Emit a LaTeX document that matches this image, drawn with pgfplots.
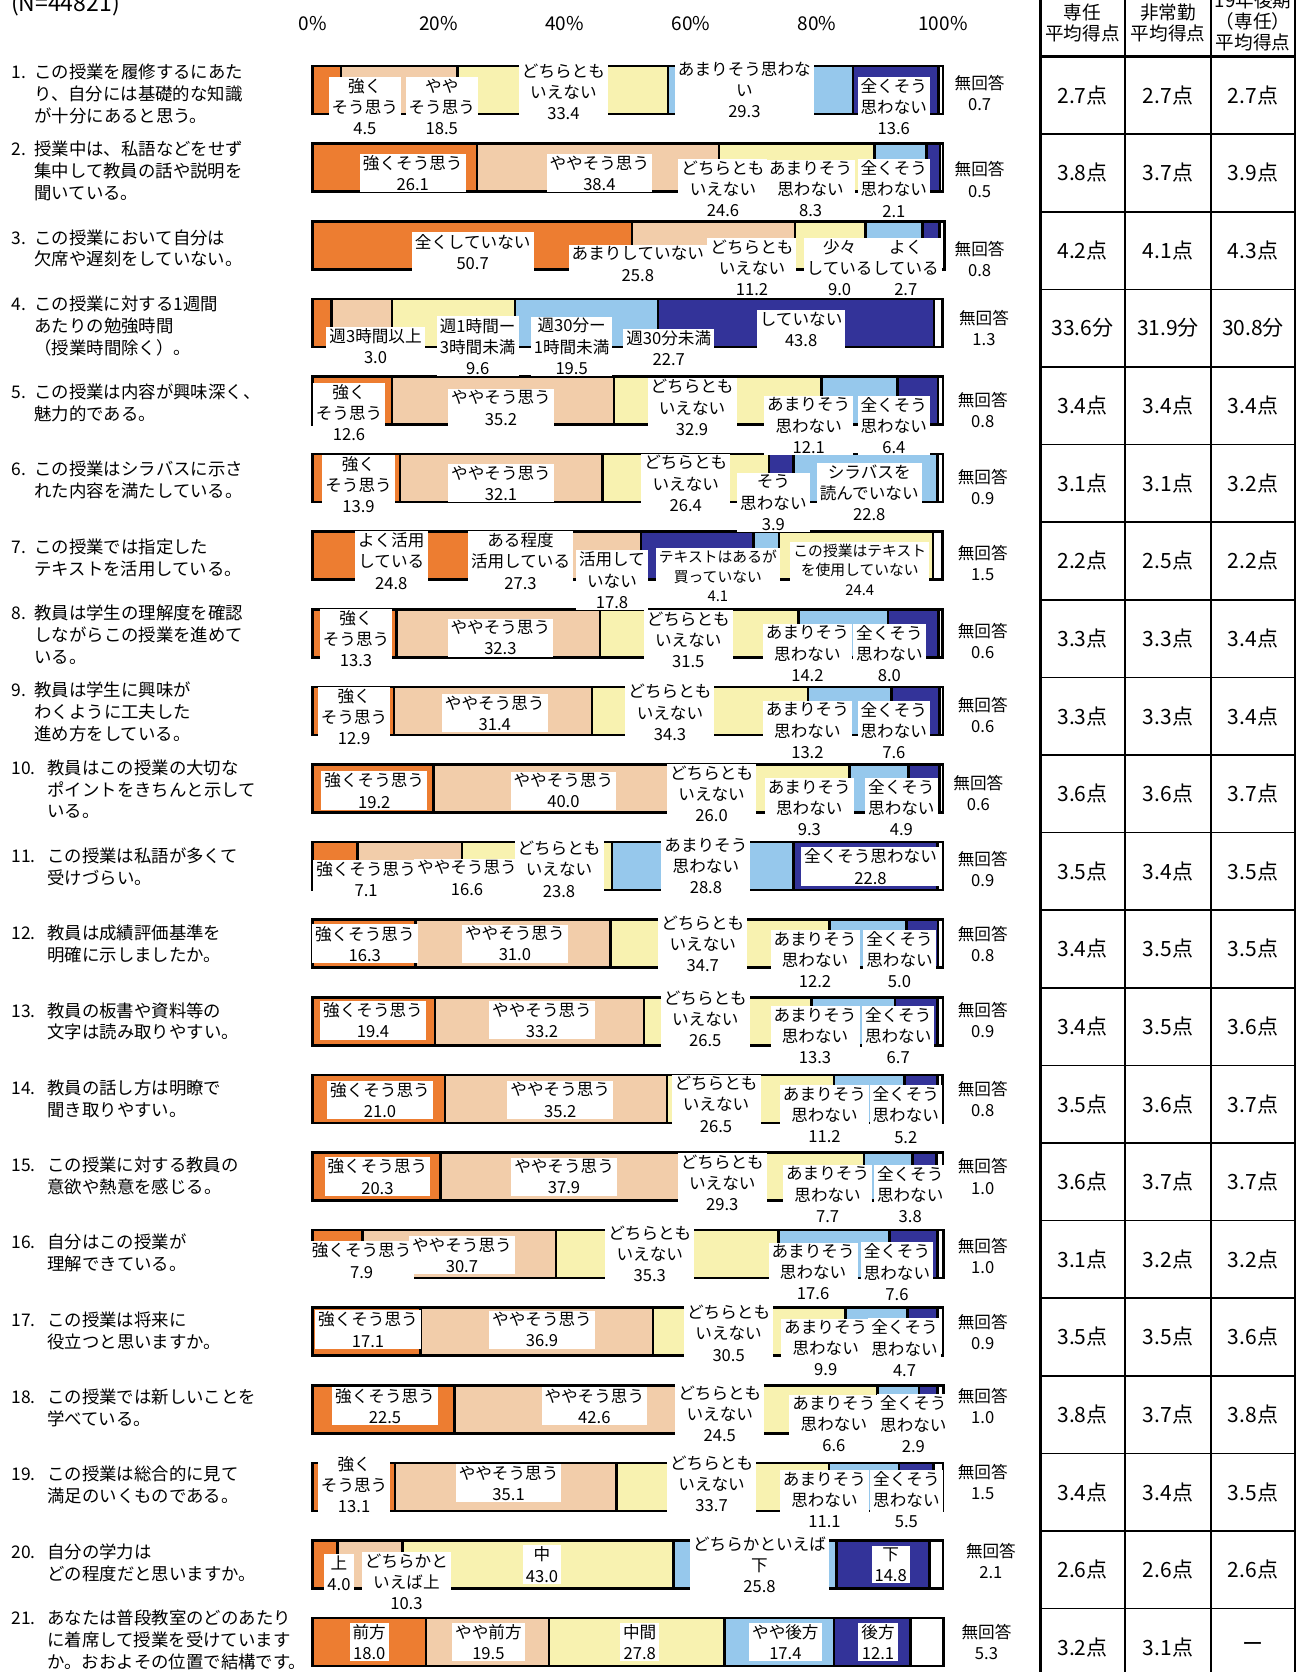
\documentclass[border=0pt]{standalone}
\usepackage{fontspec}
\setmainfont{Noto Sans CJK JP}
\usepackage{pgfplots}
\pgfplotsset{compat=1.18}
\usepackage{pgfplotstable}

\definecolor{cOr}{RGB}{237,125,49}
\definecolor{cPe}{RGB}{242,205,170}
\definecolor{cYe}{RGB}{248,242,176}
\definecolor{cLb}{RGB}{150,200,236}
\definecolor{cNv}{RGB}{51,51,153}

\newcommand{\lfont}{\fontsize{8.3}{10.6}\selectfont}
\newcommand{\sfont}{\fontsize{7.4}{9.8}\selectfont}
\newcommand{\qfont}{\fontsize{8.7}{10.95}\selectfont}
\newcommand{\tfont}{\fontsize{10.5}{12}\selectfont}
\newcommand{\hfont}{\fontsize{9.3}{10.6}\selectfont}
\newcommand{\pfont}{\fontsize{9.5}{11}\selectfont}

% one row per question; nvA/lbA only used by Q7, nvB only by Q6
\pgfplotstableread{
q  or   pe   nvA  lbA  ye   nvB  lb   nv   wh
1  4.5  18.5 0    0    33.4 0    29.3 13.6 0.7
2  26.1 38.4 0    0    24.6 0    8.3  2.1  0.5
3  50.7 25.8 0    0    11.2 0    9.0  2.7  0.8
4  3.0  9.6  0    0    19.5 0    22.7 43.8 1.3
5  12.6 35.2 0    0    32.9 0    12.1 6.4  0.8
6  13.9 32.1 0    0    26.4 3.9  22.8 0    0.9
7  24.8 27.3 17.8 4.1  24.4 0    0    0    1.5
8  13.3 32.3 0    0    31.5 0    14.2 8.0  0.6
9  12.9 31.4 0    0    34.3 0    13.2 7.6  0.6
10 19.2 40.0 0    0    26.0 0    9.3  4.9  0.6
11 7.1  16.6 0    0    23.8 0    28.8 22.8 0.9
12 16.3 31.0 0    0    34.7 0    12.2 5.0  0.8
13 19.4 33.2 0    0    26.5 0    13.3 6.7  0.9
14 21.0 35.2 0    0    26.5 0    11.2 5.2  0.8
15 20.3 37.9 0    0    29.3 0    7.7  3.8  1.0
16 7.9  30.7 0    0    35.3 0    17.6 7.6  1.0
17 17.1 36.9 0    0    30.5 0    9.9  4.7  0.9
18 22.5 42.6 0    0    24.5 0    6.6  2.9  1.0
19 13.1 35.1 0    0    33.7 0    11.1 5.5  1.5
20 4.0  10.3 0    0    43.0 0    25.8 14.8 2.1
21 18.0 19.5 0    0    27.8 0    17.4 12.1 5.3
}\data

\pgfplotsset{frame/.style={
  at={(156.25pt,-25.65pt)}, anchor=north west,
  scale only axis, width=315.25pt, height=814.8pt,
  xmin=0, xmax=100, ymin=0.5, ymax=21.5, y dir=reverse,
  clip=false}}

% label: x (percent), row, shift down (px), text
\newcommand{\lab}[4]{\node[lbl,yshift={-(#3)*0.533pt}] at (axis cs:#1,#2) {#4};}
\newcommand{\labs}[4]{\node[lbl,font=\sfont,yshift={-(#3)*0.533pt}] at (axis cs:#1,#2) {#4};}
\newcommand{\na}[4]{\node[lbl,fill=none,yshift={-(#3)*0.533pt}] at (axis cs:#2,#1) {無回答\\#4};}
\newcommand{\qn}[3]{\node[anchor=west,inner sep=0pt,font=\qfont] at (5.5pt,{-48pt-(#1-1)*38.65pt}) {\begin{tabular}{@{}p{#2}@{}l@{}}#3\end{tabular}};}

\begin{document}
\begin{tikzpicture}[lbl/.style={fill=white, inner xsep=1.5pt, inner ysep=0.8pt, align=center, font=\lfont}]
\useasboundingbox (0,0) rectangle (649pt,-836pt);
\clip (0,0) rectangle (649pt,-836pt);

% bars
\begin{axis}[
  frame,
  xbar stacked, bar width=24pt,
  ytick=\empty,
  xtick={0,20,40,60,80,100},
  xticklabels={0\%,20\%,40\%,60\%,80\%,100\%},
  xticklabel pos=upper,
  xticklabel style={font=\pfont, yshift=7pt},
  axis line style={draw=none},
  major tick length=0pt,
  every axis plot/.append style={draw=black, line width=1.3pt},
]
\addplot[fill=cOr] table[x=or,y=q]{\data};
\addplot[fill=cPe] table[x=pe,y=q]{\data};
\addplot[fill=cNv] table[x=nvA,y=q]{\data};
\addplot[fill=cLb] table[x=lbA,y=q]{\data};
\addplot[fill=cYe] table[x=ye,y=q]{\data};
\addplot[fill=cNv] table[x=nvB,y=q]{\data};
\addplot[fill=cLb] table[x=lb,y=q]{\data};
\addplot[fill=cNv] table[x=nv,y=q]{\data};
\addplot[fill=white] table[x=wh,y=q]{\data};
\end{axis}

% data labels, in a second axis with the same frame so they lie on top of the bars
\begin{axis}[frame, hide axis]
\lab{8.3}{1}{15.5}{強く\\そう思う\\4.5}
\lab{20.5}{1}{15.5}{やや\\そう思う\\18.5}
\lab{39.8}{1}{1.5}{どちらとも\\いえない\\33.4}
\lab{68.5}{1}{0}{あまりそう思わな\\い\\29.3}
\lab{92.2}{1}{15.5}{全くそう\\思わない\\13.6}
\na{1}{105.8}{3}{0.7}

\lab{15.9}{2}{5}{強くそう思う\\26.1}
\lab{45.5}{2}{5}{ややそう思う\\38.4}
\lab{65.1}{2}{20}{どちらとも\\いえない\\24.6}
\lab{79.0}{2}{20}{あまりそう\\思わない\\8.3}
\lab{92.2}{2}{20}{全くそう\\思わない\\2.1}
\na{2}{105.8}{11}{0.5}

\lab{25.4}{3}{6}{全くしていない\\50.7}
\lab{51.6}{3}{17.5}{あまりしていない\\25.8}
\lab{69.7}{3}{21}{どちらとも\\いえない\\11.2}
\lab{83.6}{3}{21}{少々\\している\\9.0}
\lab{94.1}{3}{21}{よく\\している\\2.7}
\na{3}{105.8}{12.5}{0.8}

\lab{10.0}{4}{22}{週3時間以上\\3.0}
\lab{26.2}{4}{22}{週1時間ー\\3時間未満\\9.6}
\lab{41.1}{4}{22}{週30分ー\\1時間未満\\19.5}
\lab{56.5}{4}{24}{週30分未満\\22.7}
\lab{77.5}{4}{6}{していない\\43.8}
\na{4}{106.5}{5}{1.3}

\lab{5.8}{5}{11.5}{強く\\そう思う\\12.6}
\lab{29.9}{5}{7}{ややそう思う\\35.2}
\lab{60.2}{5}{6.5}{どちらとも\\いえない\\32.9}
\lab{78.7}{5}{23.5}{あまりそう\\思わない\\12.1}
\lab{92.2}{5}{23.5}{全くそう\\思わない\\6.4}
\na{5}{106.3}{9}{0.8}

\lab{7.3}{6}{6}{強く\\そう思う\\13.9}
\lab{29.9}{6}{5}{ややそう思う\\32.1}
\lab{59.2}{6}{5}{どちらとも\\いえない\\26.4}
\lab{73.1}{6}{23}{そう\\思わない\\3.9}
\lab{88.3}{6}{14}{シラバスを\\読んでいない\\22.8}
\na{6}{106.3}{8}{0.9}

\lab{12.5}{7}{5}{よく活用\\している\\24.8}
\lab{33.0}{7}{5}{ある程度\\活用している\\27.3}
\lab{47.5}{7}{23}{活用して\\いない\\17.8}
\labs{64.3}{7}{19}{テキストはあるが\\買っていない\\4.1}
\labs{86.8}{7}{13}{この授業はテキスト\\を使用していない\\24.4}
\na{7}{106.3}{7}{1.5}

\lab{6.9}{8}{5}{強く\\そう思う\\13.3}
\lab{29.8}{8}{4}{ややそう思う\\32.3}
\lab{59.6}{8}{6}{どちらとも\\いえない\\31.5}
\lab{78.5}{8}{19}{あまりそう\\思わない\\14.2}
\lab{91.5}{8}{19}{全くそう\\思わない\\8.0}
\na{8}{106.3}{7}{0.6}

\lab{6.6}{9}{5.5}{強く\\そう思う\\12.9}
\lab{28.9}{9}{2}{ややそう思う\\31.4}
\lab{56.7}{9}{1.5}{どちらとも\\いえない\\34.3}
\lab{78.5}{9}{18.5}{あまりそう\\思わない\\13.2}
\lab{92.2}{9}{18.5}{全くそう\\思わない\\7.6}
\na{9}{106.3}{4}{0.6}

\lab{9.8}{10}{2}{強くそう思う\\19.2}
\lab{39.8}{10}{2}{ややそう思う\\40.0}
\lab{63.3}{10}{5}{どちらとも\\いえない\\26.0}
\lab{78.8}{10}{18}{あまりそう\\思わない\\9.3}
\lab{93.4}{10}{18}{全くそう\\思わない\\4.9}
\na{10}{105.6}{4}{0.6}

\lab{8.5}{11}{12}{強くそう思う\\7.1}
\lab{24.5}{11}{11}{ややそう思う\\16.6}
\lab{39.1}{11}{3}{どちらとも\\いえない\\23.8}
\lab{62.4}{11}{0}{あまりそう\\思わない\\28.8}
\lab{88.5}{11}{0.5}{全くそう思わない\\22.8}
\na{11}{106.3}{2.5}{0.9}

\lab{8.3}{12}{0}{強くそう思う\\16.3}
\lab{32.1}{12}{0}{ややそう思う\\31.0}
\lab{61.9}{12}{0}{どちらとも\\いえない\\34.7}
\lab{79.7}{12}{15}{あまりそう\\思わない\\12.2}
\lab{93.1}{12}{15}{全くそう\\思わない\\5.0}
\na{12}{106.3}{0}{0.8}

\lab{9.6}{13}{-1}{強くそう思う\\19.4}
\lab{36.4}{13}{-1}{ややそう思う\\33.2}
\lab{62.3}{13}{-2.5}{どちらとも\\いえない\\26.5}
\lab{79.7}{13}{13.5}{あまりそう\\思わない\\13.3}
\lab{92.9}{13}{13.5}{全くそう\\思わない\\6.7}
\na{13}{106.3}{-1}{0.9}

\lab{10.7}{14}{1}{強くそう思う\\21.0}
\lab{39.3}{14}{1}{ややそう思う\\35.2}
\lab{64.0}{14}{5}{どちらとも\\いえない\\26.5}
\lab{81.2}{14}{15}{あまりそう\\思わない\\11.2}
\lab{94.1}{14}{15}{全くそう\\思わない\\5.2}
\na{14}{106.3}{0}{0.8}

\lab{10.3}{15}{0}{強くそう思う\\20.3}
\lab{39.9}{15}{0}{ややそう思う\\37.9}
\lab{65.0}{15}{6}{どちらとも\\いえない\\29.3}
\lab{81.7}{15}{17}{あまりそう\\思わない\\7.7}
\lab{94.8}{15}{17}{全くそう\\思わない\\3.8}
\na{15}{106.3}{0}{1.0}

\lab{7.8}{16}{6}{強くそう思う\\7.9}
\lab{23.7}{16}{1}{ややそう思う\\30.7}
\lab{53.5}{16}{0}{どちらとも\\いえない\\35.3}
\lab{79.4}{16}{17}{あまりそう\\思わない\\17.6}
\lab{92.7}{16}{17}{全くそう\\思わない\\7.6}
\na{16}{106.3}{2}{1.0}

\lab{8.8}{17}{-2}{強くそう思う\\17.1}
\lab{36.4}{17}{-2}{ややそう思う\\36.9}
\lab{66.0}{17}{1.5}{どちらとも\\いえない\\30.5}
\lab{81.4}{17}{15.5}{あまりそう\\思わない\\9.9}
\lab{93.9}{17}{15.5}{全くそう\\思わない\\4.7}
\na{17}{106.3}{0}{0.9}

\lab{11.5}{18}{-3}{強くそう思う\\22.5}
\lab{44.7}{18}{-3}{ややそう思う\\42.6}
\lab{64.6}{18}{4}{どちらとも\\いえない\\24.5}
\lab{82.7}{18}{14}{あまりそう\\思わない\\6.6}
\lab{95.3}{18}{14}{全くそう\\思わない\\2.9}
\na{18}{106.3}{-3}{1.0}

\lab{6.6}{19}{-2}{強く\\そう思う\\13.1}
\lab{31.1}{19}{-3.5}{ややそう思う\\35.1}
\lab{63.3}{19}{-3}{どちらとも\\いえない\\33.7}
\lab{81.2}{19}{12}{あまりそう\\思わない\\11.1}
\lab{94.2}{19}{12}{全くそう\\思わない\\5.5}
\na{19}{106.3}{-4.5}{1.5}

\lab{4.2}{20}{8}{上\\4.0}
\lab{14.9}{20}{16.5}{どちらかと\\いえば上\\10.3}
\lab{36.4}{20}{0}{中\\43.0}
\lab{70.9}{20}{0}{どちらかといえば\\下\\25.8}
\lab{91.7}{20}{0}{下\\14.8}
\na{20}{107.6}{-3}{2.1}

\lab{9.0}{21}{0}{前方\\18.0}
\lab{27.9}{21}{0}{やや前方\\19.5}
\lab{51.9}{21}{0}{中間\\27.8}
\lab{75.0}{21}{0}{やや後方\\17.4}
\lab{89.7}{21}{0}{後方\\12.1}
\na{21}{106.9}{0}{5.3}
\end{axis}

\node[anchor=west,font=\fontsize{11.5}{13}\selectfont] at (2pt,-2pt) {(N=44821)};

\qn{1}{11.5pt}{1. & この授業を履修するにあた\\ & り、自分には基礎的な知識\\ & が十分にあると思う。}
\qn{2}{11.5pt}{2. & 授業中は、私語などをせず\\ & 集中して教員の話や説明を\\ & 聞いている。}
\qn{3}{11.5pt}{3. & この授業において自分は\\ & 欠席や遅刻をしていない。}
\qn{4}{11.5pt}{4. & この授業に対する1週間\\ & あたりの勉強時間\\ & （授業時間除く）。}
\qn{5}{11.5pt}{5. & この授業は内容が興味深く、\\ & 魅力的である。}
\qn{6}{11.5pt}{6. & この授業はシラバスに示さ\\ & れた内容を満たしている。}
\qn{7}{11.5pt}{7. & この授業では指定した\\ & テキストを活用している。}
\qn{8}{11.5pt}{8. & 教員は学生の理解度を確認\\ & しながらこの授業を進めて\\ & いる。}
\qn{9}{11.5pt}{9. & 教員は学生に興味が\\ & わくように工夫した\\ & 進め方をしている。}
\qn{10}{18pt}{10. & 教員はこの授業の大切な\\ & ポイントをきちんと示して\\ & いる。}
\qn{11}{18pt}{11. & この授業は私語が多くて\\ & 受けづらい。}
\qn{12}{18pt}{12. & 教員は成績評価基準を\\ & 明確に示しましたか。}
\qn{13}{18pt}{13. & 教員の板書や資料等の\\ & 文字は読み取りやすい。}
\qn{14}{18pt}{14. & 教員の話し方は明瞭で\\ & 聞き取りやすい。}
\qn{15}{18pt}{15. & この授業に対する教員の\\ & 意欲や熱意を感じる。}
\qn{16}{18pt}{16. & 自分はこの授業が\\ & 理解できている。}
\qn{17}{18pt}{17. & この授業は将来に\\ & 役立つと思いますか。}
\qn{18}{18pt}{18. & この授業では新しいことを\\ & 学べている。}
\qn{19}{18pt}{19. & この授業は総合的に見て\\ & 満足のいくものである。}
\qn{20}{18pt}{20. & 自分の学力は\\ & どの程度だと思いますか。}
\qn{21}{18pt}{21. & あなたは普段教室のどのあたり\\ & に着席して授業を受けています\\ & か。おおよその位置で結構です。}

% score table on the right
\draw[line width=1.5pt] (520pt,10pt) -- (520pt,-840pt);
\foreach \x in {562.5pt,605.5pt,647.5pt} \draw[line width=0.9pt] (\x,10pt) -- (\x,-840pt);
\draw[line width=1.4pt] (520pt,-28.25pt) -- (648pt,-28.25pt);
\foreach \k in {1,...,21} \draw[line width=0.8pt] (520pt,{-28.25pt-\k*38.8pt}) -- (648pt,{-28.25pt-\k*38.8pt});
\node[align=center,font=\hfont] at (541.25pt,-11.5pt) {専任\\平均得点};
\node[align=center,font=\hfont] at (584pt,-11.5pt) {非常勤\\平均得点};
\node[align=center,font=\hfont] at (626.5pt,-10.8pt) {19年後期\\（専任）\\平均得点};
\foreach \r/\a/\b/\c in {1/2.7点/2.7点/2.7点, 2/3.8点/3.7点/3.9点, 3/4.2点/4.1点/4.3点,
  4/33.6分/31.9分/30.8分, 5/3.4点/3.4点/3.4点, 6/3.1点/3.1点/3.2点, 7/2.2点/2.5点/2.2点,
  8/3.3点/3.3点/3.4点, 9/3.3点/3.3点/3.4点, 10/3.6点/3.6点/3.7点, 11/3.5点/3.4点/3.5点,
  12/3.4点/3.5点/3.5点, 13/3.4点/3.5点/3.6点, 14/3.5点/3.6点/3.7点, 15/3.6点/3.7点/3.7点,
  16/3.1点/3.2点/3.2点, 17/3.5点/3.5点/3.6点, 18/3.8点/3.7点/3.8点, 19/3.4点/3.4点/3.5点,
  20/2.6点/2.6点/2.6点, 21/3.2点/3.1点/ー}{
  \node[font=\tfont] at (541.25pt,{-28.25pt-(\r-0.5)*38.8pt}) {\a};
  \node[font=\tfont] at (584pt,{-28.25pt-(\r-0.5)*38.8pt}) {\b};
  \node[font=\tfont] at (626.5pt,{-28.25pt-(\r-0.5)*38.8pt}) {\c};
}
\end{tikzpicture}
\end{document}
